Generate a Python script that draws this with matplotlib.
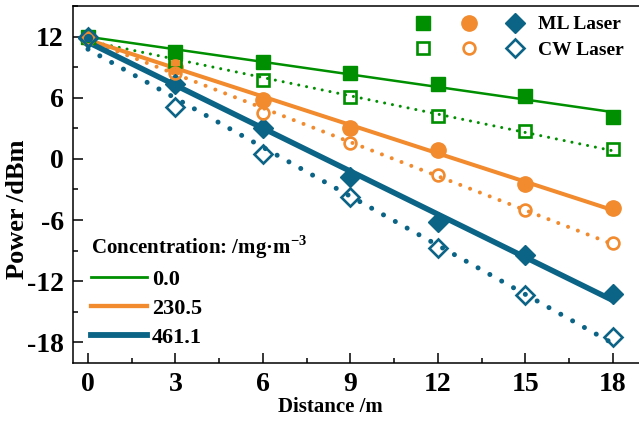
import matplotlib
matplotlib.use("Agg")
import matplotlib.pyplot as plt
import numpy as np
from matplotlib.legend_handler import HandlerTuple
from matplotlib.lines import Line2D
from matplotlib.ticker import MultipleLocator

plt.rcParams['font.family'] = ['Liberation Serif', 'DejaVu Serif']
plt.rcParams['font.weight'] = 'bold'
plt.rcParams['axes.unicode_minus'] = False
plt.rcParams['mathtext.fontset'] = 'custom'
plt.rcParams['mathtext.rm'] = 'Liberation Serif:bold'
plt.rcParams['mathtext.bf'] = 'Liberation Serif:bold'

# measured output power along the link
distance = [0, 3, 6, 9, 12, 15, 18]
concentrations = ['0.0', '230.5', '461.1']
ml_power = {
    '0.0':   [12.0, 10.5, 9.5, 8.4, 7.3, 6.2, 4.1],
    '230.5': [11.9, 9.0, 5.8, 3.0, 0.9, -2.5, -4.8],
    '461.1': [11.9, 7.3, 3.0, -1.8, -6.2, -9.4, -13.3],
}
cw_power = {
    '0.0':   [12.0, 9.6, 7.7, 6.1, 4.2, 2.7, 1.0],
    '230.5': [11.9, 8.4, 4.5, 1.6, -1.6, -5.0, -8.3],
    '461.1': [12.0, 5.1, 0.5, -3.7, -8.7, -13.4, -17.5],
}

colors = {'0.0': '#008F00', '230.5': '#F28A2E', '461.1': '#0B6486'}
markers = {'0.0': 's', '230.5': 'o', '461.1': 'D'}
msize = {'0.0': 10.5, '230.5': 11, '461.1': 10.5}
msize_open = {'0.0': 8, '230.5': 8.5, '461.1': 9}
solid_lw = {'0.0': 1.8, '230.5': 2.9, '461.1': 4.0}
dot_lw = {'0.0': 2.2, '230.5': 2.9, '461.1': 3.6}
dot_gap = {'0.0': 2.6, '230.5': 2.6, '461.1': 2.7}

fig = plt.figure(figsize=(6.39, 4.22), dpi=100)
ax = fig.add_axes([73.4 / 639, 1 - 362.7 / 422, 1 - 73.4 / 639, (362.7 - 6) / 422])

x = np.array(distance, dtype=float)
xfit = np.array([0.0, 18.0])
ml_handles = []
cw_handles = []
line_handles = []
for c in concentrations:
    col = colors[c]
    ml = np.array(ml_power[c])
    cw = np.array(cw_power[c])
    # linear fits: solid for ML, dotted for CW
    k, b = np.polyfit(x, ml, 1)
    ax.plot(xfit, k * xfit + b, color=col, lw=solid_lw[c], zorder=2,
            solid_capstyle='butt')
    k2, b2 = np.polyfit(x, cw, 1)
    ax.plot(xfit, k2 * xfit + b2, color=col, lw=dot_lw[c], zorder=2,
            linestyle=(0, (0.01, dot_gap[c])), dash_capstyle='round')
    m1, = ax.plot(x, ml, linestyle='none', marker=markers[c], ms=msize[c],
                  color=col, zorder=3)
    m2, = ax.plot(x, cw, linestyle='none', marker=markers[c], ms=msize_open[c],
                  mfc='none', mec=col, mew=1.9, zorder=4)
    ml_handles.append(m1)
    cw_handles.append(m2)
    line_handles.append(Line2D([], [], color=col, lw=solid_lw[c] + 0.2))

ax.set_xlim(-0.5, 18.9)
ax.set_ylim(-20, 15)
ax.xaxis.set_major_locator(MultipleLocator(3))
ax.xaxis.set_minor_locator(MultipleLocator(1.5))
ax.yaxis.set_major_locator(MultipleLocator(6))
ax.yaxis.set_minor_locator(MultipleLocator(3))
ax.tick_params(which='both', direction='in', width=1.1, top=False, right=False)
ax.tick_params(which='major', length=7, pad=7, labelsize=20)
ax.tick_params(which='minor', length=3.5)
ax.spines['right'].set_visible(False)
for s in ('left', 'bottom', 'top'):
    ax.spines[s].set_linewidth(1.1)
for lab in ax.get_xticklabels() + ax.get_yticklabels():
    lab.set_fontweight('bold')

ax.set_xlabel('Distance /m', fontsize=15, fontweight='bold')
ax.xaxis.set_label_coords(0.4537, -0.097)
ax.set_ylabel('Power /dBm', fontsize=19, fontweight='bold', va='center')
ax.yaxis.set_label_coords(-0.098, 0.43)

leg1 = ax.legend([tuple(ml_handles), tuple(cw_handles)], ['ML Laser', 'CW Laser'],
                 handler_map={tuple: HandlerTuple(ndivide=None, pad=0)},
                 numpoints=1, handlelength=7.1, handletextpad=0.0,
                 labelspacing=0.4, borderpad=0, frameon=False,
                 prop={'size': 14, 'weight': 'bold'},
                 loc='upper left', bbox_to_anchor=(390 / 639, 1 - 6 / 422),
                 bbox_transform=fig.transFigure)
ax.add_artist(leg1)

ax.legend(line_handles, concentrations, title='Concentration: /mg·m$^{-3}$',
          title_fontproperties={'size': 15, 'weight': 'bold'},
          prop={'size': 16, 'weight': 'bold'}, alignment='left',
          handlelength=2.5, handletextpad=0.25, labelspacing=0.38,
          borderpad=0, frameon=False, loc='upper left',
          bbox_to_anchor=(80 / 639, 1 - 222 / 422), bbox_transform=fig.transFigure)

fig.savefig('out.png', dpi=100)
